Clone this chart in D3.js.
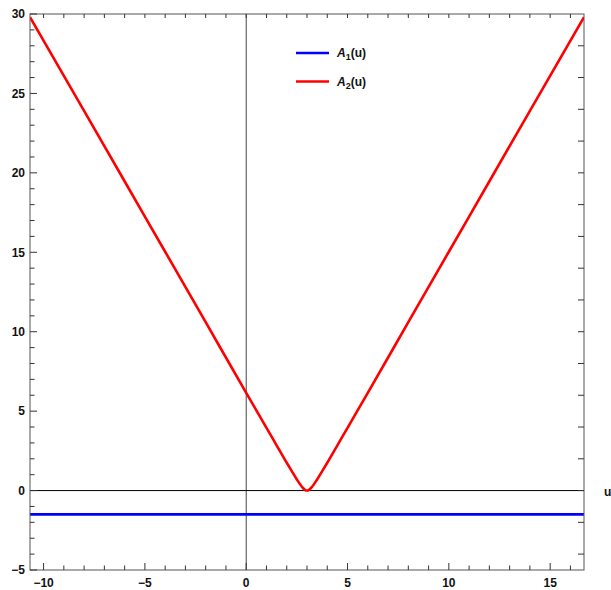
<!DOCTYPE html>
<html>
<head>
<meta charset="utf-8">
<script src="https://cdn.jsdelivr.net/npm/d3@7"></script>
<style>
  html, body { margin: 0; padding: 0; background: #fff; }
  svg text { font-family: "Liberation Sans", Arial, sans-serif; font-weight: bold; }
</style>
</head>
<body>
<svg id="chart" width="611" height="590"></svg>
<script>
// A1(u): constant level
const a1U = [-10.67, 16.67];
const a1V = [-1.5, -1.5];

// A2(u): V-shaped curve with rounded minimum at u = 3
const a2U = [-10.67, -8, -5, -2, 0, 1, 1.5, 2, 2.25, 2.5, 2.75, 2.9, 3,
             3.1, 3.25, 3.5, 3.75, 4, 4.5, 5, 6, 8, 11, 14, 16.67];
const a2V = [29.8, 23.9, 17.25, 10.6, 6.15, 3.95, 2.85, 1.75, 1.22, 0.70, 0.24, 0.045, 0,
             0.045, 0.24, 0.70, 1.22, 1.75, 2.85, 3.95, 6.15, 10.6, 17.25, 23.9, 29.8];

const xMajor = [-10, -5, 0, 5, 10, 15];
const yMajor = [-5, 0, 5, 10, 15, 20, 25, 30];
const seriesNames = ["1", "2"];
const seriesColors = ["#0000ff", "#ff0000"];

const svg = d3.select("#chart");
const mLeft = 30, mRight = 584, mTop = 14, mBottom = 570;

const x = d3.scaleLinear().domain([-10.67, 16.67]).range([mLeft, mRight]);
const y = d3.scaleLinear().domain([-5, 30]).range([mBottom, mTop]);

const frameColor = "#555";

// coordinate axes through the origin
svg.append("line")
  .attr("x1", x(0)).attr("x2", x(0)).attr("y1", mTop).attr("y2", mBottom)
  .attr("stroke", "#444").attr("stroke-width", 1);
svg.append("line")
  .attr("x1", mLeft).attr("x2", mRight).attr("y1", y(0)).attr("y2", y(0))
  .attr("stroke", "#000").attr("stroke-width", 1);

// curves
const lineGen = d3.line().x(d => x(d[0])).y(d => y(d[1])).curve(d3.curveMonotoneX);
svg.append("clipPath").attr("id", "plotclip")
  .append("rect").attr("x", mLeft).attr("y", mTop - 2)
  .attr("width", mRight - mLeft).attr("height", mBottom - mTop + 4);

const plot = svg.append("g").attr("clip-path", "url(#plotclip)");
plot.append("path")
  .datum(a1U.map((u, i) => [u, a1V[i]]))
  .attr("d", lineGen).attr("fill", "none")
  .attr("stroke", seriesColors[0]).attr("stroke-width", 2.6);
plot.append("path")
  .datum(a2U.map((u, i) => [u, a2V[i]]))
  .attr("d", lineGen).attr("fill", "none")
  .attr("stroke", seriesColors[1]).attr("stroke-width", 2.6)
  .attr("stroke-linejoin", "round");

// frame
svg.append("rect")
  .attr("x", mLeft).attr("y", mTop).attr("width", mRight - mLeft).attr("height", mBottom - mTop)
  .attr("fill", "none").attr("stroke", frameColor).attr("stroke-width", 1);

const ticks = svg.append("g").attr("stroke", "#333").attr("stroke-width", 1);

// bottom ticks: every integer, longer at multiples of 5
d3.range(-10, 17).forEach(v => {
  const len = v % 5 === 0 ? 7 : 4.5;
  ticks.append("line").attr("x1", x(v)).attr("x2", x(v)).attr("y1", mBottom).attr("y2", mBottom - len);
});
// top ticks: every integer
d3.range(-10, 17).forEach(v => {
  ticks.append("line").attr("x1", x(v)).attr("x2", x(v)).attr("y1", mTop).attr("y2", mTop + 4);
});
// left ticks: every integer, longer at multiples of 5
d3.range(-5, 31).forEach(v => {
  const len = v % 5 === 0 ? 7 : 4.5;
  ticks.append("line").attr("x1", mLeft).attr("x2", mLeft + len).attr("y1", y(v)).attr("y2", y(v));
});
// right ticks: every second integer
d3.range(-4, 30, 2).forEach(v => {
  ticks.append("line").attr("x1", mRight).attr("x2", mRight - 6).attr("y1", y(v)).attr("y2", y(v));
});

const fmt = v => (v < 0 ? "\u2212" + Math.abs(v) : String(v));

// tick labels
svg.append("g").selectAll("text").data(xMajor).join("text")
  .attr("x", d => x(d)).attr("y", 587)
  .attr("text-anchor", "middle").attr("font-size", 12).attr("fill", "#111")
  .text(fmt);
svg.append("g").selectAll("text").data(yMajor).join("text")
  .attr("x", 25).attr("y", d => y(d) + 4.3)
  .attr("text-anchor", "end").attr("font-size", 12).attr("fill", "#111")
  .text(fmt);

// axis label
svg.append("text").attr("x", 604).attr("y", 496).attr("font-size", 12).attr("fill", "#111").text("u");

// legend
const legend = svg.append("g");
seriesNames.forEach((s, i) => {
  const ly = 53 + i * 28.5;
  legend.append("line")
    .attr("x1", 296).attr("x2", 329).attr("y1", ly).attr("y2", ly)
    .attr("stroke", seriesColors[i]).attr("stroke-width", 2.6);
  const t = legend.append("text").attr("x", 337).attr("y", ly + 4.3)
    .attr("font-size", 12).attr("fill", "#111");
  t.append("tspan").attr("font-style", "italic").text("A");
  t.append("tspan").attr("font-size", 9).attr("dy", 3).text(s);
  t.append("tspan").attr("dy", -3).text("(u)");
});
</script>
</body>
</html>
